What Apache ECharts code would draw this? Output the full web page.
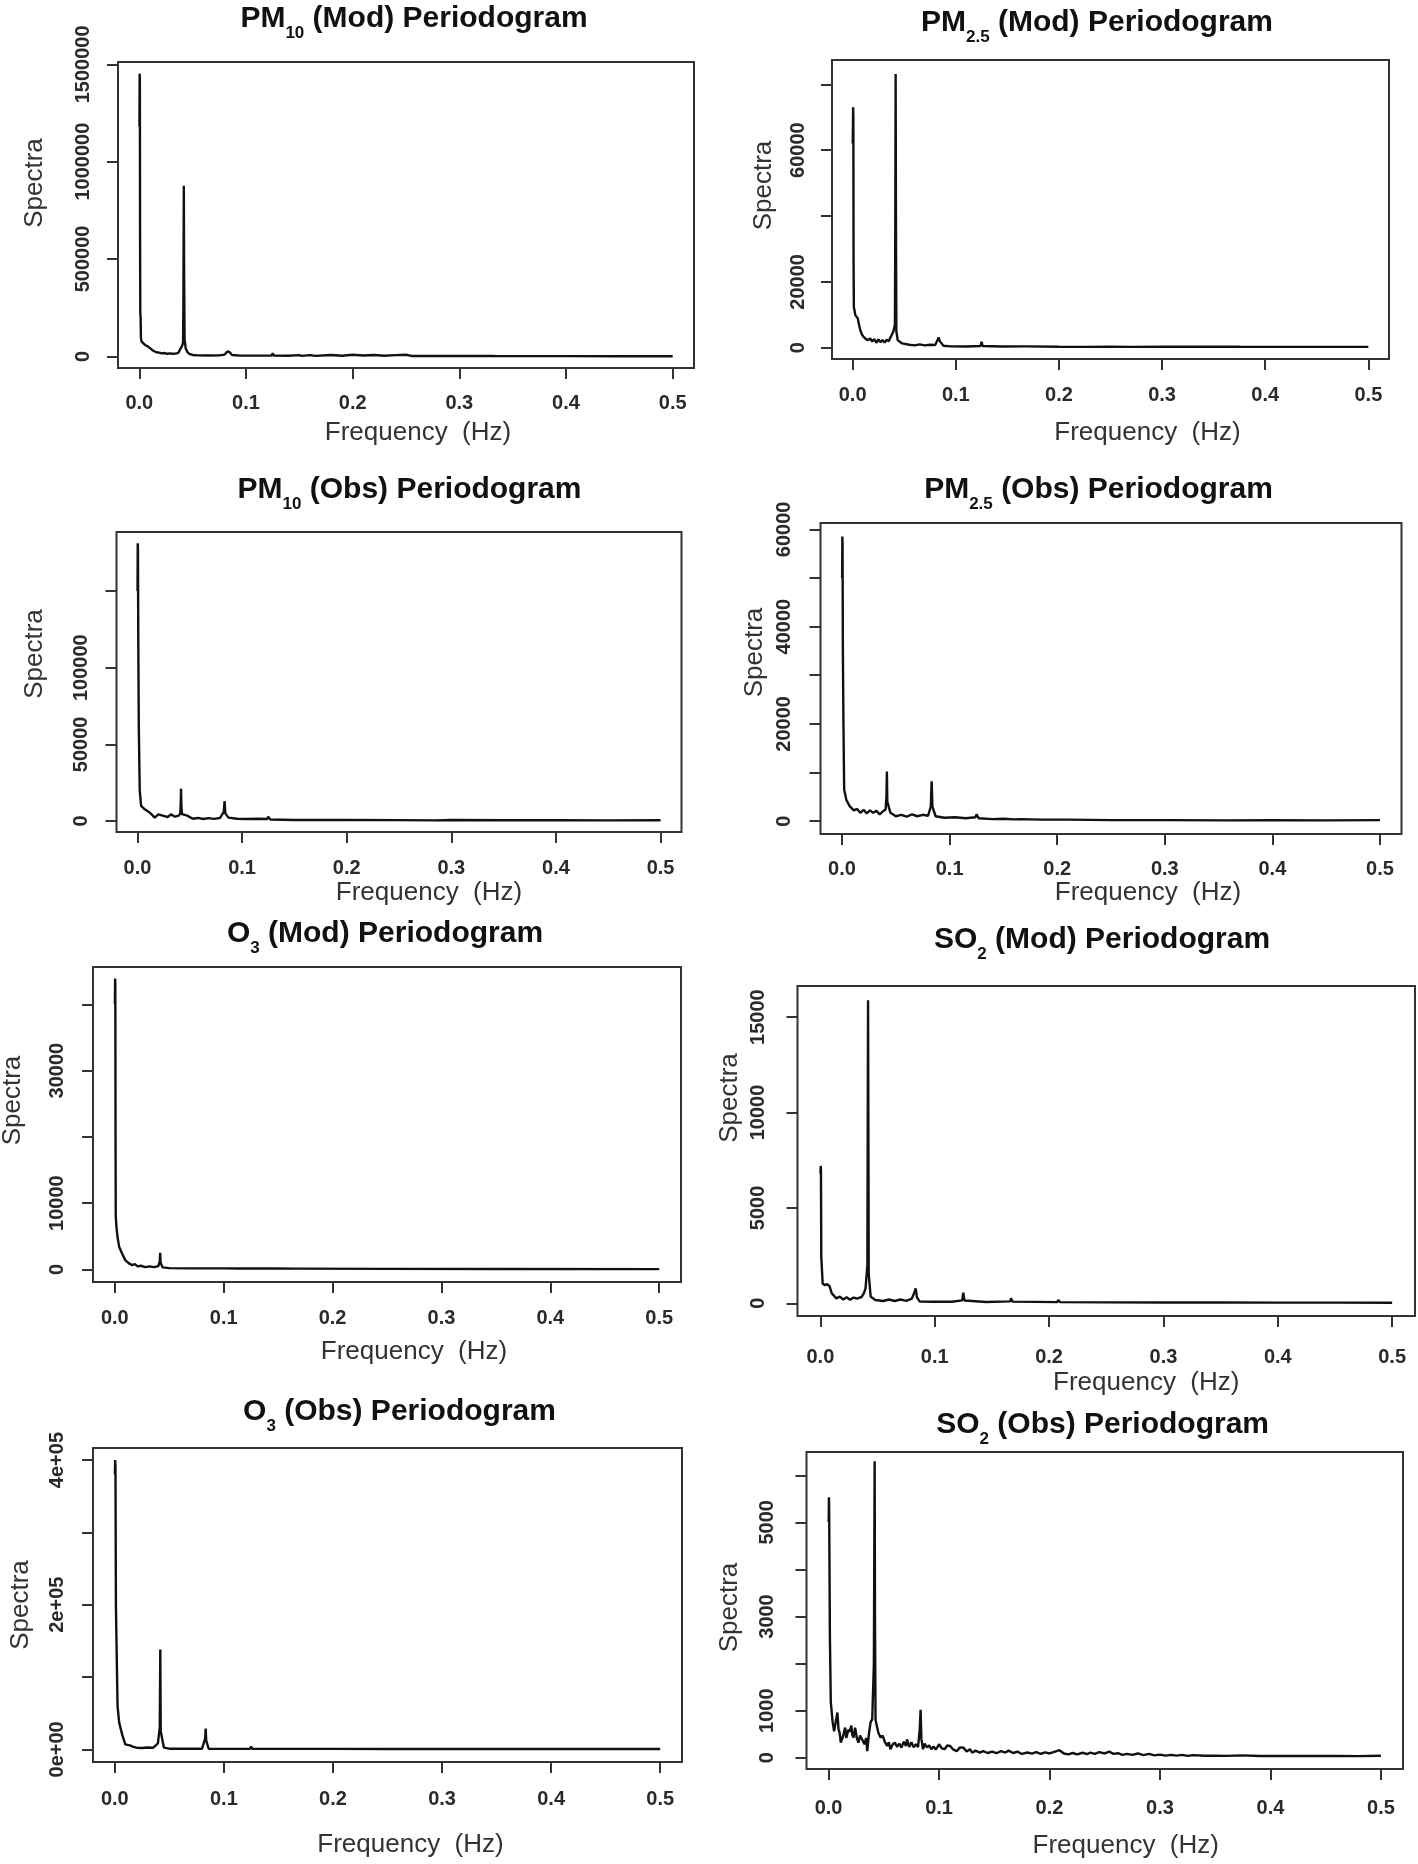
<!DOCTYPE html>
<html><head><meta charset="utf-8">
<script src="https://cdn.jsdelivr.net/npm/echarts@6/dist/echarts.min.js"></script>
<style>html,body{margin:0;padding:0;background:#fff}#c{width:1418px;height:1864px}</style>
</head><body><div id="c"></div>
<script>
// ---------- DATA ----------
const freqTicks = [0, 0.1, 0.2, 0.3, 0.4, 0.5];
const freqTickLabels = ['0.0', '0.1', '0.2', '0.3', '0.4', '0.5'];

const pm10ModTicks = [0, 500000, 1000000, 1500000];
const pm10ModLabels = [0, 500000, 1000000, 1500000];
const pm25ModTicks = [0, 20000, 40000, 60000, 80000];
const pm25ModLabels = [0, 20000, 60000];
const pm10ObsTicks = [0, 50000, 100000, 150000];
const pm10ObsLabels = [0, 50000, 100000];
const pm25ObsTicks = [0, 10000, 20000, 30000, 40000, 50000, 60000];
const pm25ObsLabels = [0, 20000, 40000, 60000];
const o3ModTicks = [0, 10000, 20000, 30000, 40000];
const o3ModLabels = [0, 10000, 30000];
const so2ModTicks = [0, 5000, 10000, 15000];
const so2ModLabels = [0, 5000, 10000, 15000];
const o3ObsTicks = [0, 100000, 200000, 300000, 400000];
const o3ObsLabels = [0, 200000, 400000];
const o3ObsLabelText = {0: '0e+00', 200000: '2e+05', 400000: '4e+05'};
const so2ObsTicks = [0, 1000, 2000, 3000, 4000, 5000, 6000];
const so2ObsLabels = [0, 1000, 3000, 5000];

// [frequency (Hz), spectrum]
const pm10Mod = [
 [0.0001,1180000],[0.0003,1452000],[0.0005,1430000],[0.0007,600000],[0.0009,223000],[0.0012,200000],
 [0.0015,95000],[0.0020,77000],[0.0030,68000],[0.0055,58000],[0.0080,50000],[0.0100,42000],[0.0120,33000],
 [0.0140,26000],[0.0160,21000],[0.0185,19000],[0.0210,15000],[0.0235,17000],[0.0260,13000],[0.0285,15000],
 [0.0310,13000],[0.0340,14000],[0.0365,18000],[0.0385,38000],[0.0400,52000],[0.0410,70000],[0.0413,260000],
 [0.0417,876000],[0.0420,420000],[0.0424,90000],[0.0435,40000],[0.0450,22000],[0.0470,12000],[0.0500,7000],
 [0.0550,5000],[0.0650,4500],[0.0750,5000],[0.0800,9000],[0.0825,25000],[0.0833,33000],[0.0845,22000],
 [0.0870,7000],[0.0950,3500],[0.1100,3500],[0.1240,4000],[0.1250,16000],[0.1260,4000],[0.1400,3000],
 [0.1500,6000],[0.1520,2500],[0.1600,6000],[0.1650,2500],[0.1800,7000],[0.1900,3000],[0.2000,8000],
 [0.2100,4000],[0.2200,7000],[0.2300,3000],[0.2400,6000],[0.2500,8000],[0.2550,2000],[0.2700,2500],
 [0.3000,1500],[0.3320,1500],[0.3333,6000],[0.3345,1200],[0.4000,800],[0.4500,600],[0.5000,500]
];
const pm25Mod = [
 [0.0001,62000],[0.0003,67000],[0.0005,73000],[0.0007,70000],[0.0009,26600],[0.0012,12400],[0.0020,11000],
 [0.0026,9900],[0.0050,8900],[0.0065,6500],[0.0075,5300],[0.0090,4000],[0.0106,3300],[0.0130,2600],
 [0.0150,2300],[0.0170,2800],[0.0190,1900],[0.0210,2600],[0.0230,1500],[0.0250,2500],[0.0270,1700],
 [0.0290,2300],[0.0310,1600],[0.0330,2400],[0.0350,2000],[0.0370,3300],[0.0395,4900],[0.0410,7000],
 [0.0413,30000],[0.0417,83100],[0.0420,40000],[0.0424,5000],[0.0437,2300],[0.0480,1300],[0.0550,900],
 [0.0600,700],[0.0650,1000],[0.0700,700],[0.0750,900],[0.0800,800],[0.0825,2400],[0.0833,3100],
 [0.0845,2000],[0.0880,600],[0.0950,400],[0.1100,350],[0.1240,500],[0.1250,1800],[0.1260,500],
 [0.1450,350],[0.1660,400],[0.1667,1000],[0.1680,400],[0.2000,300],[0.2250,250],[0.2500,300],
 [0.2700,250],[0.3000,300],[0.3320,300],[0.3333,600],[0.3345,280],[0.3740,280],[0.3750,500],
 [0.3760,260],[0.4490,250],[0.4500,450],[0.4510,250],[0.5000,250]
];
const pm10Obs = [
 [0.0001,150000],[0.0003,181100],[0.0005,178000],[0.0008,120000],[0.0013,62000],[0.0022,20000],
 [0.0035,9800],[0.0070,7600],[0.0120,5400],[0.0165,2200],[0.0200,4300],[0.0250,3300],[0.0290,2600],
 [0.0320,4300],[0.0360,2800],[0.0395,3500],[0.0410,5000],[0.0414,12000],[0.0417,21100],[0.0420,10000],
 [0.0425,4500],[0.0470,3700],[0.0530,1500],[0.0580,2000],[0.0630,1300],[0.0680,1900],[0.0730,1400],
 [0.0790,2000],[0.0825,6000],[0.0833,13000],[0.0840,5000],[0.0870,2200],[0.0950,1500],[0.1050,1300],
 [0.1150,1500],[0.1240,1300],[0.1250,2800],[0.1270,1000],[0.1500,700],[0.2000,650],[0.2500,600],
 [0.2850,400],[0.3000,650],[0.3500,450],[0.4000,600],[0.4500,400],[0.5000,500]
];
const pm25Obs = [
 [0.0001,50000],[0.0003,58500],[0.0005,57100],[0.0008,35000],[0.0013,20700],[0.0020,6500],[0.0040,4400],
 [0.0070,3100],[0.0110,2200],[0.0140,2500],[0.0170,1700],[0.0200,2300],[0.0230,1600],[0.0260,2200],
 [0.0290,1700],[0.0320,2100],[0.0350,1400],[0.0380,2000],[0.0405,2400],[0.0413,5000],[0.0417,10200],
 [0.0421,4000],[0.0450,1700],[0.0500,1000],[0.0550,1300],[0.0600,900],[0.0650,1400],[0.0700,1000],
 [0.0750,1300],[0.0800,1100],[0.0825,3000],[0.0833,8200],[0.0840,3000],[0.0870,1000],[0.0950,700],
 [0.1050,800],[0.1150,600],[0.1240,800],[0.1250,1400],[0.1270,600],[0.1400,400],[0.1500,500],
 [0.1600,350],[0.1660,400],[0.1667,700],[0.1675,350],[0.1850,300],[0.2100,300],[0.2500,200],[0.3000,200],
 [0.3600,150],[0.4000,200],[0.4500,150],[0.5000,200]
];
const o3Mod = [
 [0.0001,40000],[0.0003,43900],[0.0005,43000],[0.0007,20000],[0.0009,8000],[0.0015,6500],[0.0025,4950],
 [0.0040,3430],[0.0067,2400],[0.0096,1400],[0.0130,900],[0.0160,650],[0.0185,800],[0.0210,450],
 [0.0240,550],[0.0280,350],[0.0320,450],[0.0360,350],[0.0400,500],[0.0413,1200],[0.0417,2500],
 [0.0421,1000],[0.0440,300],[0.0500,200],[0.0700,150],[0.1000,150],[0.1140,130],[0.1150,300],
 [0.1160,130],[0.1440,130],[0.1450,300],[0.1460,130],[0.1660,120],[0.1667,350],[0.1675,100],
 [0.2500,80],[0.3500,60],[0.5000,50]
];
const so2Mod = [
 [0.0001,6800],[0.0003,7200],[0.0005,7000],[0.0008,2430],[0.0020,1040],[0.0040,950],[0.0060,1000],
 [0.0080,900],[0.0100,520],[0.0140,260],[0.0170,350],[0.0200,200],[0.0230,320],[0.0260,180],
 [0.0290,300],[0.0320,250],[0.0360,330],[0.0380,520],[0.0395,780],[0.0411,2000],[0.0414,9000],
 [0.0417,15880],[0.0420,9000],[0.0423,1500],[0.0440,350],[0.0480,170],[0.0550,120],[0.0600,200],
 [0.0650,120],[0.0700,200],[0.0750,130],[0.0800,250],[0.0825,600],[0.0833,780],[0.0845,300],
 [0.0870,90],[0.1000,80],[0.1150,80],[0.1240,150],[0.1250,555],[0.1260,150],[0.1450,70],
 [0.1660,100],[0.1667,260],[0.1680,90],[0.2070,60],[0.2083,170],[0.2095,60],[0.2500,50],[0.3000,40],
 [0.3500,40],[0.4000,35],[0.4500,35],[0.5000,30]
];
const o3Obs = [
 [0.0001,380000],[0.0003,400000],[0.0006,391700],[0.0010,200000],[0.0020,106000],[0.0025,60000],
 [0.0040,36900],[0.0055,28000],[0.0067,20700],[0.0096,6900],[0.0138,5500],[0.0170,3500],[0.0200,2300],
 [0.0250,1800],[0.0300,2500],[0.0350,2300],[0.0370,4600],[0.0395,8300],[0.0412,30000],[0.0417,138200],
 [0.0421,25000],[0.0450,2300],[0.0500,900],[0.0600,800],[0.0700,900],[0.0800,900],[0.0828,15000],
 [0.0833,28600],[0.0838,12000],[0.0860,900],[0.1000,700],[0.1240,900],[0.1250,3700],[0.1260,800],
 [0.1500,600],[0.2000,600],[0.2500,500],[0.3000,500],[0.3740,500],[0.3750,1500],[0.3760,450],
 [0.4160,450],[0.4170,1200],[0.4180,450],[0.5000,400]
];
const so2Obs = [
 [0.0001,5000],[0.0003,5535],[0.0005,5320],[0.0012,2535],[0.0020,1180],[0.0037,750],[0.0050,560],
 [0.0060,700],[0.0080,960],[0.0090,600],[0.0100,535],[0.0110,320],[0.0130,450],[0.0150,640],
 [0.0160,420],[0.0170,390],[0.0180,600],[0.0190,550],[0.0206,680],[0.0215,480],[0.0226,430],
 [0.0240,640],[0.0255,420],[0.0270,320],[0.0285,470],[0.0300,500],[0.0312,350],[0.0325,285],
 [0.0340,420],[0.0350,140],[0.0365,500],[0.0380,750],[0.0395,820],[0.0410,2000],[0.0414,4500],
 [0.0417,6300],[0.0420,3000],[0.0425,800],[0.0450,535],[0.0470,430],[0.0490,470],[0.0510,330],
 [0.0530,250],[0.0545,330],[0.0560,180],[0.0580,280],[0.0600,320],[0.0620,230],[0.0640,300],
 [0.0660,214],[0.0680,340],[0.0700,250],[0.0710,390],[0.0730,230],[0.0750,330],[0.0770,220],
 [0.0790,285],[0.0810,230],[0.0825,600],[0.0833,1020],[0.0840,400],[0.0855,180],[0.0870,300],
 [0.0890,220],[0.0910,260],[0.0930,180],[0.0950,240],[0.0970,170],[0.1000,285],[0.1025,200],
 [0.1050,180],[0.1075,260],[0.1100,250],[0.1130,170],[0.1160,140],[0.1190,220],[0.1220,214],
 [0.1250,130],[0.1280,180],[0.1300,107],[0.1330,150],[0.1370,110],[0.1400,140],[0.1440,100],
 [0.1480,130],[0.1520,95],[0.1560,140],[0.1600,110],[0.1630,150],[0.1670,100],[0.1710,130],
 [0.1750,80],[0.1800,110],[0.1840,86],[0.1880,120],[0.1920,80],[0.1960,115],[0.2000,90],
 [0.2050,130],[0.2090,160],[0.2130,90],[0.2170,71],[0.2210,100],[0.2250,70],[0.2300,105],
 [0.2340,75],[0.2370,107],[0.2410,80],[0.2450,120],[0.2500,90],[0.2540,128],[0.2580,80],
 [0.2620,95],[0.2660,60],[0.2700,80],[0.2750,60],[0.2800,90],[0.2850,55],[0.2900,80],
 [0.2950,50],[0.3000,65],[0.3050,45],[0.3100,60],[0.3150,45],[0.3200,60],[0.3250,40],
 [0.3300,55],[0.3400,40],[0.3500,45],[0.3600,38],[0.3750,50],[0.3900,35],[0.4200,38],
 [0.4400,35],[0.4600,36],[0.4800,34],[0.5000,40]
];

const titles = [
 'PM{s|10} (Mod) Periodogram', 'PM{s|2.5} (Mod) Periodogram',
 'PM{s|10} (Obs) Periodogram', 'PM{s|2.5} (Obs) Periodogram',
 'O{s|3} (Mod) Periodogram', 'SO{s|2} (Mod) Periodogram',
 'O{s|3} (Obs) Periodogram', 'SO{s|2} (Obs) Periodogram'
];
const seriesData = [pm10Mod, pm25Mod, pm10Obs, pm25Obs, o3Mod, so2Mod, o3Obs, so2Obs];
const yTicks = [pm10ModTicks, pm25ModTicks, pm10ObsTicks, pm25ObsTicks, o3ModTicks, so2ModTicks, o3ObsTicks, so2ObsTicks];
const yLabels = [pm10ModLabels, pm25ModLabels, pm10ObsLabels, pm25ObsLabels, o3ModLabels, so2ModLabels, o3ObsLabels, so2ObsLabels];
const yLabelText = [null, null, null, null, null, null, o3ObsLabelText, null];
const xName = 'Frequency  (Hz)';
const yName = 'Spectra';

// ---------- LAYOUT (pixels) ----------
const layout = [
 {L:118,   T:62,   R:694,    B:368,  ymin:-60000, ymax:1512000, tx:414,    ty:19,   xm:25, ym:25, yg:70, yD:32, xg:52, xD:12},
 {L:832,   T:60,   R:1389,   B:359,  ymin:-3430,  ymax:87380,   tx:1097,   ty:23,   xm:26, ym:24, yg:55, yD:24, xg:61, xD:37},
 {L:116.5, T:532,  R:681.5,  B:832,  ymin:-7170,  ymax:188470,  tx:409.5,  ty:490,  xm:26, ym:25, yg:69, yD:28, xg:48, xD:30},
 {L:820.5, T:523,  R:1401.5, B:834,  ymin:-2650,  ymax:61300,   tx:1098.5, ty:490,  xm:25, ym:26, yg:53, yD:26, xg:46, xD:37},
 {L:93,    T:967,  R:681,    B:1282, ymin:-1900,  ymax:45630,   tx:385,    ty:934,  xm:26, ym:26, yg:67, yD:24, xg:57, xD:27},
 {L:797.5, T:986,  R:1415,   B:1316, ymin:-666,   ymax:16630,   tx:1102,   ty:940,  xm:31, ym:29, yg:55, yD:53, xg:54, xD:40},
 {L:93,    T:1448, R:682,    B:1762, ymin:-17500, ymax:416700,  tx:399.5,  ty:1412, xm:27, ym:26, yg:59, yD:0,  xg:70, xD:23},
 {L:806.5, T:1452, R:1403,   B:1769, ymin:-240,   ymax:6495,    tx:1102.6, ty:1425, xm:29, ym:29, yg:64, yD:3,  xg:64, xD:21}
];

const FONT = 'Liberation Sans, Arial, sans-serif';
const INK = '#2a2a2a';

const option = {backgroundColor:'#fff', animation:false, title:[], grid:[], xAxis:[], yAxis:[], series:[]};

layout.forEach((g, i) => {
  option.title.push({
    text: titles[i], left: g.tx, top: g.ty - 22.5, textAlign: 'center', padding: 0,
    textStyle: {fontFamily: FONT, fontSize: 30, fontWeight: 'bold', color: '#111',
      rich: {s: {fontFamily: FONT, fontSize: 17, fontWeight: 'bold', color: '#111', padding: [28, 0, 0, 0]}}}
  });
  option.grid.push({left: g.L, top: g.T, width: g.R - g.L, height: g.B - g.T, show: true,
    borderColor: '#333', borderWidth: 2, backgroundColor: 'transparent', containLabel: false, outerBoundsMode: 'none'});
  option.xAxis.push({
    type: 'value', gridIndex: i, min: -0.02, max: 0.52,
    name: xName, nameLocation: 'middle', nameGap: g.xg,
    nameTextStyle: {fontFamily: FONT, fontSize: 26, color: '#333', padding: [0, 0, 0, 2 * g.xD]},
    axisLine: {show: false, onZero: false},
    axisTick: {show: true, length: 11, customValues: freqTicks, lineStyle: {color: '#333', width: 2}},
    axisLabel: {show: true, margin: g.xm, customValues: freqTicks, fontFamily: FONT, fontSize: 20, fontWeight: 'bold', color: INK,
      formatter: v => freqTickLabels[freqTicks.findIndex(t => Math.abs(t - v) < 1e-9)] ?? ''},
    splitLine: {show: false}
  });
  const lt = yLabelText[i];
  option.yAxis.push({
    type: 'value', gridIndex: i, min: g.ymin, max: g.ymax,
    name: yName, nameLocation: 'middle', nameGap: g.yg,
    nameTextStyle: {fontFamily: FONT, fontSize: 26, color: '#333',
      padding: g.yD >= 0 ? [0, 0, 0, 2 * g.yD] : [0, -2 * g.yD, 0, 0]},
    axisLine: {show: false, onZero: false},
    axisTick: {show: true, length: 11, customValues: yTicks[i], lineStyle: {color: '#333', width: 2}},
    axisLabel: {show: true, rotate: 90, margin: g.ym, customValues: yLabels[i], fontFamily: FONT, fontSize: 20, fontWeight: 'bold', color: INK,
      formatter: v => lt ? (lt[v] ?? '') : String(v)},
    splitLine: {show: false}
  });
  option.series.push({
    type: 'line', xAxisIndex: i, yAxisIndex: i, data: seriesData[i],
    showSymbol: false, symbol: 'none', smooth: false,
    lineStyle: {color: '#111', width: 2.4}, emphasis: {disabled: true}, silent: true
  });
});

const chart = echarts.init(document.getElementById('c'), null, {renderer: 'canvas'});
chart.setOption(option);
</script>
</body></html>
